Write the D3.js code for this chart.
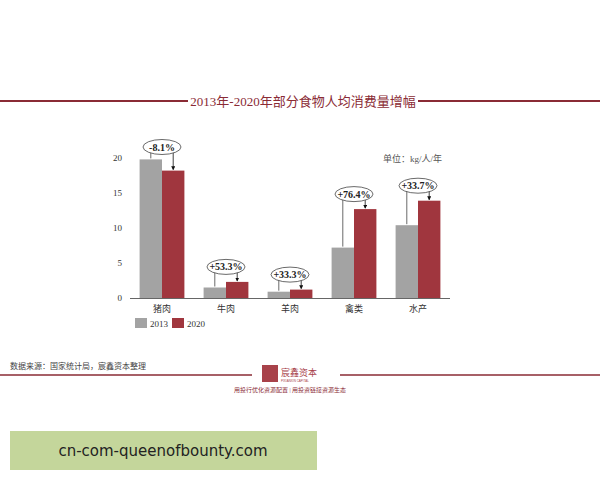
<!DOCTYPE html>
<html><head><meta charset="utf-8">
<script src="https://cdn.jsdelivr.net/npm/d3@7"></script>
<style>body{margin:0;background:#fff}</style>
</head><body><svg id="c" width="600" height="480"></svg>
<script>
var categories = ["猪肉", "牛肉", "羊肉", "禽类", "水产"];
var v2013 = [19.8, 1.5, 0.9, 7.2, 10.4];
var v2020 = [18.2, 2.3, 1.2, 12.7, 13.9];
var changes = ["-8.1%", "+53.3%", "+33.3%", "+76.4%", "+33.7%"];
var yTicks = [0, 5, 10, 15, 20];

var red = "#a0363e", gray = "#a3a3a3", dark = "#8a2b35";
var serif = "'Liberation Serif','Noto Sans CJK SC',serif";
var svg = d3.select("#c");

// title + rules
svg.append("line").attr("x1", 0).attr("x2", 188).attr("y1", 101).attr("y2", 101).attr("stroke", dark).attr("stroke-width", 2);
svg.append("line").attr("x1", 418).attr("x2", 600).attr("y1", 101).attr("y2", 101).attr("stroke", dark).attr("stroke-width", 2);
svg.append("text").attr("x", 303).attr("y", 106).attr("text-anchor", "middle")
  .style("font-family", serif).style("font-size", "13px").style("fill", dark).text("2013年-2020年部分食物人均消费量增幅");

var x = d3.scaleBand().domain(categories).range([130, 450]).paddingInner(0.3).paddingOuter(0.15);
var y = d3.scaleLinear().domain([0, 20]).range([298, 158]);
var bw = x.bandwidth() / 2;

svg.append("g").attr("transform", "translate(130,0)")
  .call(d3.axisLeft(y).tickValues(yTicks).tickSize(0).tickPadding(8))
  .call(g => g.select(".domain").remove())
  .selectAll("text").style("font-family", serif).style("font-size", "9px").style("fill", "#333");

svg.append("line").attr("x1", 130).attr("x2", 450).attr("y1", 298.5).attr("y2", 298.5).attr("stroke", "#666");

svg.selectAll(".b13").data(categories).enter().append("rect")
  .attr("x", d => x(d)).attr("y", (d, i) => y(v2013[i])).attr("width", bw)
  .attr("height", (d, i) => y(0) - y(v2013[i])).attr("fill", gray);
svg.selectAll(".b20").data(categories).enter().append("rect")
  .attr("x", d => x(d) + bw).attr("y", (d, i) => y(v2020[i])).attr("width", bw)
  .attr("height", (d, i) => y(0) - y(v2020[i])).attr("fill", red);

svg.selectAll(".cat").data(categories).enter().append("text")
  .attr("x", d => x(d) + bw).attr("y", 312).attr("text-anchor", "middle")
  .style("font-family", serif).style("font-size", "9px").style("fill", "#333").text(d => d);

// annotations
svg.append("defs").append("marker").attr("id", "ar").attr("viewBox", "0 0 6 6").attr("refX", 5).attr("refY", 3)
  .attr("markerWidth", 5).attr("markerHeight", 5).attr("orient", "auto")
  .append("path").attr("d", "M0,0L6,3L0,6Z").attr("fill", "#111");
categories.forEach(function(c, i) {
  var cx = x(c) + bw;
  var cy = Math.max(y(Math.max(v2013[i], v2020[i])) - 15, 147);
  var a = svg.append("g");
  a.append("line").attr("x1", x(c) + bw / 2).attr("x2", x(c) + bw / 2).attr("y1", cy).attr("y2", y(v2013[i]) - 1).attr("stroke", "#444").attr("stroke-width", 0.8);
  a.append("line").attr("x1", x(c) + bw * 1.5).attr("x2", x(c) + bw * 1.5).attr("y1", cy).attr("y2", y(v2020[i]) - 1).attr("stroke", "#111").attr("stroke-width", 0.8).attr("marker-end", "url(#ar)");
  a.append("ellipse").attr("cx", cx).attr("cy", cy).attr("rx", 19).attr("ry", 7.5).attr("fill", "#fff").attr("stroke", "#444").attr("stroke-width", 0.8);
  a.append("text").attr("x", cx).attr("y", cy + 3.5).attr("text-anchor", "middle")
    .style("font-family", serif).style("font-size", "10px").style("font-weight", "bold").style("fill", "#222").text(changes[i]);
});

svg.append("text").attr("x", 442).attr("y", 162).attr("text-anchor", "end")
  .style("font-family", serif).style("font-size", "9px").style("fill", "#555").text("单位：kg/人/年");

// legend
var legend = [["2013", gray], ["2020", red]];
legend.forEach(function(l, i) {
  svg.append("rect").attr("x", 135 + i * 37).attr("y", 318).attr("width", 12).attr("height", 10).attr("fill", l[1]);
  svg.append("text").attr("x", 150 + i * 37).attr("y", 327).style("font-family", serif).style("font-size", "9px").style("fill", "#333").text(l[0]);
});

// footer
svg.append("text").attr("x", 10).attr("y", 369).style("font-family", serif).style("font-size", "8px").style("fill", "#444").text("数据来源：国家统计局，宸鑫资本整理");
svg.append("line").attr("x1", 0).attr("x2", 252).attr("y1", 375).attr("y2", 375).attr("stroke", dark).attr("stroke-width", 1.5);
svg.append("line").attr("x1", 340).attr("x2", 600).attr("y1", 375).attr("y2", 375).attr("stroke", dark).attr("stroke-width", 1.5);
svg.append("rect").attr("x", 262).attr("y", 365).attr("width", 16).attr("height", 17).attr("fill", "#a8424a");
svg.append("text").attr("x", 281).attr("y", 376).style("font-family", serif).style("font-size", "9px").style("fill", "#a8424a").text("宸鑫资本");
svg.append("text").attr("x", 281).attr("y", 382).style("font-family", "Liberation Sans").style("font-size", "3px").style("fill", "#a8424a").text("PIXIANXIN CAPITAL");
svg.append("text").attr("x", 290).attr("y", 392).attr("text-anchor", "middle").style("font-family", serif).style("font-size", "6px").style("fill", "#8a2b35").text("用投行优化资源配置 | 用投资链接资源生态");

svg.append("rect").attr("x", 10).attr("y", 431).attr("width", 307).attr("height", 39).attr("fill", "#c4d69b");
svg.append("text").attr("x", 163).attr("y", 456).attr("text-anchor", "middle").style("font-family", "'DejaVu Sans'").style("font-size", "15px").style("fill", "#222").text("cn-com-queenofbounty.com");
</script></body></html>
